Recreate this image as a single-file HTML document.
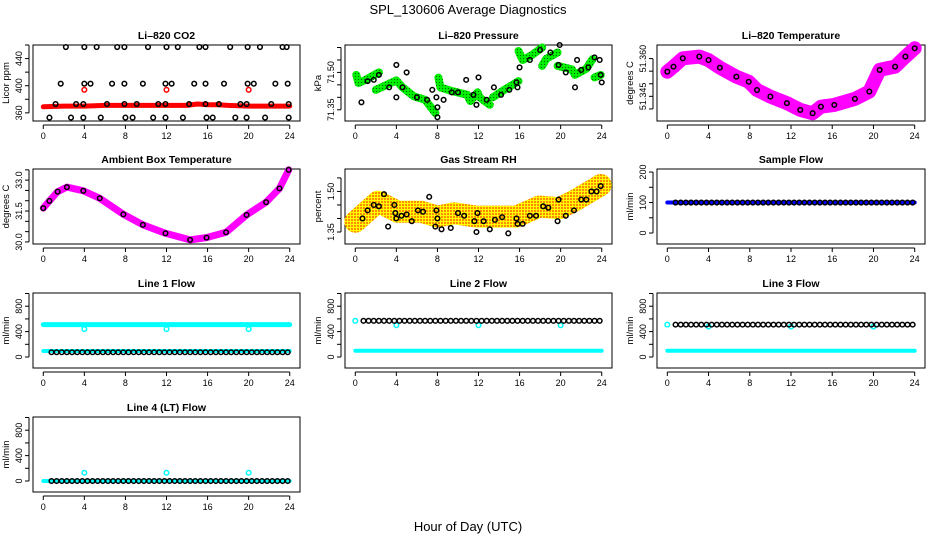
<!DOCTYPE html>
<html><head><meta charset="utf-8"><style>
html,body{margin:0;padding:0;background:#fff;}
svg{display:block;font-family:"Liberation Sans",Arial,sans-serif;}
</style></head><body>
<svg id="chart" width="936" height="540" viewBox="0 0 936 540" xmlns="http://www.w3.org/2000/svg">
<defs>
<pattern id="rhpat" width="3" height="3" patternUnits="userSpaceOnUse"><rect width="3" height="3" fill="#ffff00"/><rect width="2" height="2" fill="#ff8c00"/></pattern>
<pattern id="grpat" width="3" height="3" patternUnits="userSpaceOnUse"><rect width="3" height="3" fill="#00ee00"/><rect x="1" y="1" width="1" height="1" fill="#006600"/></pattern>
</defs>
<text x="468" y="14" font-size="13" text-anchor="middle">SPL_130606  Average Diagnostics</text>
<text x="468" y="531" font-size="13" text-anchor="middle">Hour of Day (UTC)</text>
</svg>
<script>
// ---- data ----
const hourTicks = [0,4,8,12,16,20,24];
const co2BandT = [0,2,4,6,8,10,12,14,15,16,17,18,20,22,24];
const co2BandV = [369,370,370,371,371,371,371,371,373,372,372,371,370,370,370];
const co2RedT = [4,12,20];
const co2RedV = [394,394,394];
const co2T = [2.2,4.0,5.2,7.2,7.9,10.2,12.0,13.1,15.2,15.8,18.2,19.9,21.1,23.3,23.7,
  1.7,4.0,4.6,6.7,7.9,9.7,11.9,12.5,14.7,15.8,17.6,19.9,20.5,22.6,23.8,
  1.2,3.2,3.9,6.2,7.9,9.1,11.2,11.9,14.2,15.8,17.1,19.2,19.8,22.2,23.9,
  0.6,2.7,3.9,5.6,8.0,8.7,10.7,11.9,13.6,15.9,16.5,18.7,19.8,21.6,23.9];
const co2V = [457,457,457,457,457,457,457,457,457,457,457,457,457,457,457,
  403,403,403,403,403,403,403,403,403,403,403,403,403,403,403,
  373,373,373,373,373,373,373,373,373,373,373,373,373,373,373,
  353,353,353,353,353,353,353,353,353,353,353,353,353,353,353];

const presSegT = [[0.1,0.3,1.0,2.3],[2.0,4.0,4.6,5.7,6.8,7.8],[8.1,8.3,9.5,10.9,11.2,11.9,12.1,13.1],[13.4,14.5,15.9],[15.9,16.3,17.2,18.2],[18.2,18.6,19.7],[19.7,21.1,21.4,22.5,23.1],[23.3,23.9]];
const presSegV = [[71.49,71.458,71.47,71.50],[71.43,71.468,71.44,71.404,71.39,71.337],[71.479,71.44,71.424,71.41,71.385,71.42,71.40,71.37],[71.40,71.43,71.465],[71.586,71.55,71.57,71.60],[71.526,71.555,71.58],[71.526,71.512,71.49,71.515,71.553],[71.48,71.49]];
const presT = [0.6,1.2,1.8,2.3,4.0,4.0,3.3,5.0,4.6,6.0,7.0,7.5,8.0,8.0,7.9,8.6,9.4,10.0,10.8,11.5,11.8,12.0,12.8,13.5,14.2,15.0,15.7,15.8,16.0,17.0,18.0,19.0,19.8,19.9,20.5,21.6,21.4,22.0,22.7,23.3,23.8,23.9,24.0];
const presV = [71.38,71.465,71.47,71.49,71.53,71.40,71.44,71.50,71.44,71.40,71.39,71.43,71.32,71.36,71.40,71.39,71.42,71.42,71.47,71.41,71.37,71.48,71.39,71.44,71.41,71.43,71.46,71.44,71.52,71.55,71.59,71.58,71.53,71.61,71.50,71.55,71.44,71.51,71.52,71.56,71.55,71.49,71.46];

const tempT = [0,0.6,1.5,3.1,4.0,5.1,6.7,7.9,8.7,10.0,11.6,12.9,14.1,14.9,16.2,18.2,19.6,20.6,22.1,23.1,24.0];
const tempV = [51.3548,51.3568,51.3601,51.3608,51.3594,51.3564,51.3528,51.3508,51.3475,51.3449,51.3423,51.3396,51.3383,51.3409,51.3416,51.3440,51.3469,51.3555,51.3568,51.3608,51.3641];

const ambT = [0,0.6,1.4,2.3,3.9,5.5,7.8,9.7,11.9,14.3,15.9,17.8,19.8,21.7,23.0,23.9];
const ambV = [31.64,31.99,32.44,32.66,32.48,32.12,31.34,30.83,30.42,30.10,30.21,30.47,31.31,31.93,32.60,33.50];

const rhT = [0,2.2,4.1,6.4,8.0,9.6,11.8,13.8,15.7,17.9,19.9,21.5,23.4,23.9];
const rhV = [1.388,1.462,1.425,1.425,1.407,1.419,1.407,1.407,1.407,1.444,1.438,1.469,1.512,1.524];
const rhDotT = [0.7,1.2,1.8,2.3,2.8,3.2,3.8,3.9,4.0,4.5,5.0,5.5,6.1,6.6,7.2,7.8,7.9,8.0,8.4,9.3,10.0,10.6,11.6,11.8,11.9,12.5,13.1,13.6,14.3,14.9,15.7,15.8,16.3,17.0,17.6,18.3,18.8,19.7,19.8,20.5,21.3,22.0,22.5,23.0,23.5,23.9];
const rhV2 = [1.40,1.43,1.45,1.445,1.49,1.37,1.45,1.42,1.40,1.41,1.415,1.39,1.43,1.425,1.48,1.37,1.43,1.40,1.36,1.365,1.42,1.41,1.39,1.35,1.42,1.39,1.36,1.395,1.405,1.345,1.40,1.38,1.38,1.41,1.41,1.445,1.44,1.39,1.47,1.41,1.43,1.47,1.47,1.50,1.50,1.52];

const flowT = [0.8,1.3,1.8,2.3,2.8,3.3,3.8,4.3,4.8,5.3,5.8,6.3,6.8,7.3,7.8,8.3,8.8,9.3,9.8,10.3,10.8,11.3,11.8,12.3,12.8,13.3,13.8,14.3,14.8,15.3,15.8,16.3,16.8,17.3,17.8,18.3,18.8,19.3,19.8,20.3,20.8,21.3,21.8,22.3,22.8,23.3,23.8];
const dipT = [4,12,20];
const sampleBandV = [100,100];
const sampleBlack = [100];
const line1Upper = [510,510]; const line1Lower = [95,95]; const line1Black = [75]; const line1Dip = [440,440,440];
const line2Upper = [570]; const line2Lower = [100,100]; const line2Black = [570]; const line2Dip = [500,500,500];
const line3Upper = [510]; const line3Lower = [100,100]; const line3Black = [510]; const line3Dip = [480,480,480];
const line4Lower = [0,0]; const line4Black = [0]; const line4Dip = [130,130,130];

// ---- layout ----
const svg = document.getElementById('chart');
const NS = 'http://www.w3.org/2000/svg';
const cols = [[33,300],[345,612],[657,925]];
const rows = [[45,121],[169,244],[293,368],[417,492]];
function el(tag, attrs, parent){
  const e = document.createElementNS(NS, tag);
  for (const k in attrs) e.setAttribute(k, attrs[k]);
  (parent||svg).appendChild(e);
  return e;
}
function panel(name, c, r, title, ylab, ylim, yticks, ylabels){
  const g = el('g', {});
  
  
  const L = cols[c][0], R = cols[c][1], T = rows[r][0], B = rows[r][1];
  const W = R - L;
  const x = h => L + W * (h + 1) / 26;
  const y = v => B - (v - ylim[0]) / (ylim[1] - ylim[0]) * (B - T);
  const box = el('rect', {x:L, y:T, width:W, height:B-T, fill:'none', stroke:'#000', 'stroke-width':1}, g);
  
  
  const t = el('text', {x:(L+R)/2, y:T-6, 'font-size':10.5, 'font-weight':'bold', 'text-anchor':'middle'}, g);
  t.textContent = title;
  
  
  const yl = el('text', {transform:`translate(${L-24},${(T+B)/2}) rotate(-90)`, 'font-size':9.5, 'text-anchor':'middle'}, g);
  yl.textContent = ylab;
  
  
  el('line', {x1:x(0), x2:x(24), y1:B+4, y2:B+4, stroke:'#000'}, g);
  hourTicks.forEach(h => {
    el('line', {x1:x(h), x2:x(h), y1:B+4, y2:B+8, stroke:'#000'}, g);
    const tl = el('text', {x:x(h), y:B+18, 'font-size':9, 'text-anchor':'middle'}, g);
    tl.textContent = h;
    
    
  });
  el('line', {x1:L-4, x2:L-4, y1:y(yticks[0]), y2:y(yticks[yticks.length-1]), stroke:'#000'}, g);
  yticks.forEach(v => el('line', {x1:L-8, x2:L-4, y1:y(v), y2:y(v), stroke:'#000'}, g));
  ylabels.forEach(lb => {
    const tl = el('text', {transform:`translate(${L-11},${y(lb[0])}) rotate(-90)`, 'font-size':9, 'text-anchor':'middle'}, g);
    tl.textContent = lb[1];
    
    
  });
  return {g, x, y, L, R};
}
function band(p, ts, vs, color, w, name){
  const pts = ts.map((t,i) => p.x(t).toFixed(1) + ',' + p.y(vs[i]).toFixed(1)).join(' ');
  const e = el('polyline', {points:pts, fill:'none', stroke:color, 'stroke-width':w, 'stroke-linejoin':'round', 'stroke-linecap':'round'}, p.g);
  
  
}
function dots(p, ts, vs, color, name, r){
  ts.forEach((t,i) => {
    const c = el('circle', {cx:p.x(t), cy:p.y(vs[i]), r:r||2.3, fill:'none', stroke:color, 'stroke-width':1.5}, p.g);
    
    
  });
}
const full = [0,24];

// CO2
let p = panel('co2', 0, 0, 'Li\u2013820 CO2', 'Licor ppm', [348,460], [360,380,400,420,440,460], [[360,'360'],[400,'400'],[440,'440']]);
band(p, co2BandT, co2BandV, '#ff0000', 5, 'co2-band');
dots(p, co2T, co2V, '#000', 'co2-point');
dots(p, co2RedT, co2RedV, '#ff0000', 'co2-red-point');

// Pressure
p = panel('pressure', 1, 0, 'Li\u2013820 Pressure', 'kPa', [71.305,71.61], [71.35,71.40,71.45,71.50,71.55,71.60], [[71.35,'71.35'],[71.50,'71.50']]);
presSegT.forEach((ts,i) => band(p, ts, presSegV[i], 'url(#grpat)', 8, 'pressure-band'));
dots(p, presT, presV, '#000', 'pressure-point');

// Li-820 Temperature
p = panel('li820-temp', 2, 0, 'Li\u2013820 Temperature', 'degrees C', [51.3352,51.3654], [51.340,51.345,51.350,51.355,51.360], [[51.345,'51.345'],[51.360,'51.360']]);
band(p, tempT, tempV, '#ff00ff', 14, 'li820-temp-band');
dots(p, tempT, tempV, '#000', 'li820-temp-point');

// Ambient box temperature
p = panel('ambient-temp', 0, 1, 'Ambient Box Temperature', 'degrees C', [29.90,33.54], [30,30.5,31,31.5,32,32.5,33,33.5], [[30,'30.0'],[31.5,'31.5'],[33,'33.0']]);
band(p, ambT, ambV, '#ff00ff', 7, 'ambient-temp-band');
dots(p, ambT, ambV, '#000', 'ambient-temp-point');

// Gas Stream RH
p = panel('gas-rh', 1, 1, 'Gas Stream RH', 'percent', [1.3056,1.583], [1.35,1.40,1.45,1.50,1.55], [[1.35,'1.35'],[1.50,'1.50']]);
band(p, rhT, rhV, 'url(#rhpat)', 22, 'gas-rh-band');
dots(p, rhDotT, rhV2, '#000', 'gas-rh-point');

// Sample Flow
p = panel('sample-flow', 2, 1, 'Sample Flow', 'ml/min', [-36,210], [0,50,100,150,200], [[0,'0'],[100,'100'],[200,'200']]);
band(p, full, sampleBandV, '#0000ff', 4, 'sample-flow-band');
dots(p, flowT, flowT.map(() => sampleBlack[0]), '#000', 'sample-flow-point');

const flowLim = [-173,1008], flowTicks = [0,200,400,600,800,1000], flowLabels = [[0,'0'],[400,'400'],[800,'800']];
// Line 1
p = panel('line1-flow', 0, 2, 'Line 1 Flow', 'ml/min', flowLim, flowTicks, flowLabels);
band(p, full, line1Upper, '#00ffff', 5, 'line1-upper-band');
band(p, full, line1Lower, '#00ffff', 4, 'line1-lower-band');
dots(p, dipT, line1Dip, '#00ffff', 'line1-dip-point');
dots(p, flowT, flowT.map(() => line1Black[0]), '#000', 'line1-point');
// Line 2
p = panel('line2-flow', 1, 2, 'Line 2 Flow', 'ml/min', flowLim, flowTicks, flowLabels);
band(p, full, line2Lower, '#00ffff', 4, 'line2-lower-band');
dots(p, [0], line2Upper, '#00ffff', 'line2-start-point');
dots(p, dipT, line2Dip, '#00ffff', 'line2-dip-point');
dots(p, flowT, flowT.map(() => line2Black[0]), '#000', 'line2-point');
// Line 3
p = panel('line3-flow', 2, 2, 'Line 3 Flow', 'ml/min', flowLim, flowTicks, flowLabels);
band(p, full, line3Lower, '#00ffff', 4, 'line3-lower-band');
dots(p, [0], line3Upper, '#00ffff', 'line3-start-point');
dots(p, dipT, line3Dip, '#00ffff', 'line3-dip-point');
dots(p, flowT, flowT.map(() => line3Black[0]), '#000', 'line3-point');
// Line 4
p = panel('line4-flow', 0, 3, 'Line 4 (LT) Flow', 'ml/min', flowLim, flowTicks, flowLabels);
band(p, full, line4Lower, '#00ffff', 4, 'line4-band');
dots(p, dipT, line4Dip, '#00ffff', 'line4-dip-point');
dots(p, flowT, flowT.map(() => line4Black[0]), '#000', 'line4-point');
</script>
</body></html>
